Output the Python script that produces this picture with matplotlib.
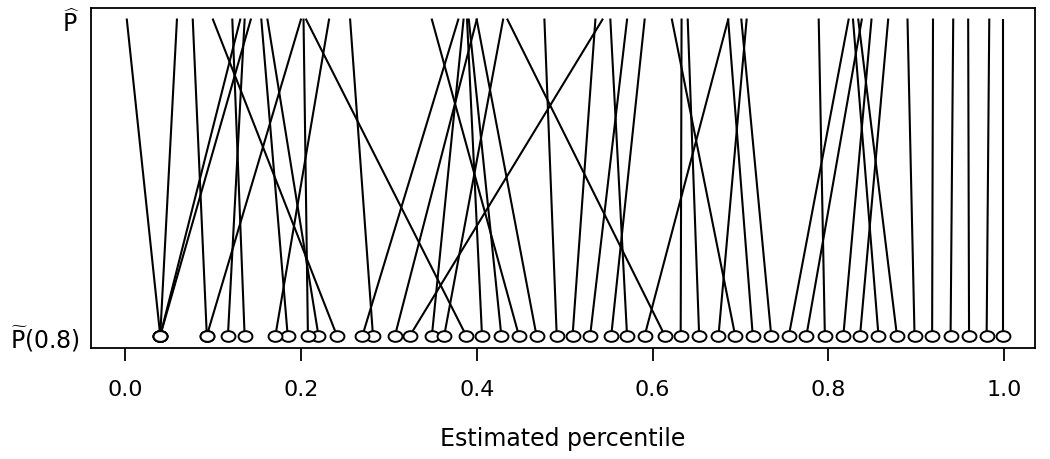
import matplotlib
matplotlib.use("Agg")
import matplotlib.pyplot as plt
from matplotlib.path import Path

# estimated percentile under P-hat (top row) and under P-tilde(0.8) (bottom row)
p_hat = [0.002, 0.059, 0.077, 0.100, 0.122, 0.131, 0.136, 0.143, 0.155, 0.162,
         0.200, 0.203, 0.206, 0.232, 0.256, 0.349, 0.379, 0.385, 0.389, 0.391,
         0.400, 0.400, 0.430, 0.435, 0.477, 0.535, 0.543, 0.552, 0.571, 0.591,
         0.622, 0.633, 0.640, 0.686, 0.686, 0.701, 0.707, 0.789, 0.823, 0.828,
         0.834, 0.838, 0.849, 0.868, 0.890, 0.919, 0.942, 0.959, 0.983, 0.999]
p_tilde = [0.040, 0.040, 0.093, 0.241, 0.136, 0.040, 0.117, 0.040, 0.185, 0.220,
           0.093, 0.208, 0.388, 0.171, 0.282, 0.448, 0.270, 0.349, 0.406, 0.428,
           0.468, 0.307, 0.363, 0.614, 0.491, 0.509, 0.324, 0.571, 0.529, 0.553,
           0.694, 0.632, 0.653, 0.591, 0.714, 0.735, 0.675, 0.796, 0.755, 0.857,
           0.878, 0.775, 0.817, 0.836, 0.898, 0.918, 0.939, 0.960, 0.980, 0.999]
x_ticks = [0.0, 0.2, 0.4, 0.6, 0.8, 1.0]
row_labels = [r"$\widetilde{\mathrm{P}}(0.8)$", r"$\widehat{\mathrm{P}}$"]

fig = plt.figure(figsize=(10.5, 4.6), dpi=100)
ax = fig.add_axes([0.0867, 0.2413, 0.899, 0.7387])

for top, bot in zip(p_hat, p_tilde):
    ax.plot([bot, top], [0, 1], color="black", lw=1.5, zorder=2)

# slightly wide open circle, like the stretched original
uc = Path.unit_circle()
ellipse = Path(uc.vertices * [1.3, 1.0], uc.codes)
ax.plot(p_tilde, [0] * len(p_tilde), linestyle="none", marker=ellipse,
        markersize=10, markerfacecolor="white", markeredgecolor="black",
        markeredgewidth=1.4, zorder=3)

ax.set_xlim(-0.0387, 1.035)
ax.set_ylim(-0.039, 1.036)
ax.set_xticks(x_ticks)
ax.set_xticklabels([f"{t:.1f}" for t in x_ticks], fontsize=16)
ax.tick_params(axis="x", length=9.5, width=1.3, pad=13)
ax.set_yticks([0, 1])
ax.set_yticklabels(row_labels, fontsize=17)
ax.tick_params(axis="y", length=0, pad=8)
for s in ax.spines.values():
    s.set_linewidth(1.3)
ax.set_xlabel("Estimated percentile", fontsize=17, labelpad=19)

fig.savefig("out.png", dpi=100)
